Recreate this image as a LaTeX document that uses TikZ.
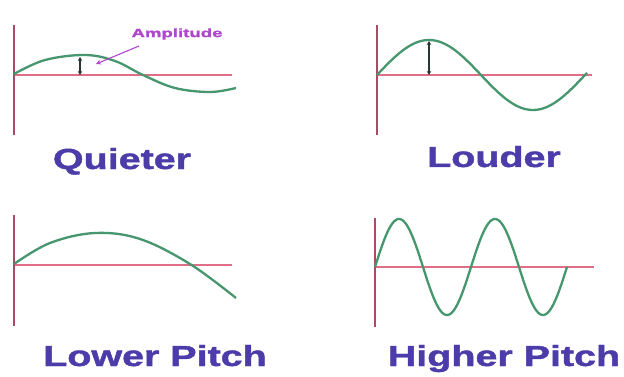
\documentclass[tikz,border=0pt]{standalone}
\usepackage{fontspec}
\setmainfont{Liberation Sans}
\newfontfamily\heavyfont[FakeBold=1.2]{Liberation Sans Bold}
\usetikzlibrary{arrows.meta}
\definecolor{wavegreen}{RGB}{70,150,110}
\definecolor{axisred}{RGB}{225,110,135}
\definecolor{axisdark}{RGB}{170,75,100}
\definecolor{labelblue}{RGB}{75,60,170}
\definecolor{amppurple}{RGB}{175,70,205}
\definecolor{arrdark}{RGB}{40,55,50}
\tikzset{
  wave/.style={wavegreen, line width=2.3pt, smooth},
  haxis/.style={axisred, line width=2.8pt},
  vaxis/.style={axisdark, line width=2.8pt},
  amparrow/.style={arrdark, line width=1.8pt, {Stealth[length=4pt,width=4.5pt]}-{Stealth[length=4pt,width=4.5pt]}},
  biglabel/.style={labelblue, font=\fontsize{29}{30}\heavyfont, xscale=1.36, inner sep=0pt, anchor=base},
  amplabel/.style={amppurple, font=\fontsize{12}{13}\heavyfont, xscale=1.55, inner sep=0pt}
}
\begin{document}
\begin{tikzpicture}[x=1pt,y=-1pt]
\useasboundingbox[fill=white] (0,0) rectangle (624,377);

% ---- Quieter ----
\coordinate (q-vt) at (14,25); \coordinate (q-vb) at (14,135);
\coordinate (q-hl) at (14,75); \coordinate (q-hr) at (232,75);
\draw[haxis] (q-hl) -- (q-hr);
\draw[vaxis] (q-vt) -- (q-vb);
\draw[wave] plot[smooth, tension=0.6] coordinates {(14,74) (45,60) (85,55) (115,61) (143,75) (175,88) (210,92) (236,88)};
\coordinate (q-at) at (80,57); \coordinate (q-ab) at (80,75);
\draw[amparrow] (q-at) -- (q-ab);
\node[amplabel] (amp) at (177,34) {Amplitude};
\coordinate (amp-tip) at (96,64);
\draw[amppurple, line width=1.1pt, -{Stealth[length=5pt,width=5pt]}] (139,46) -- (amp-tip);
\node[biglabel] (quieter) at (122,169) {Quieter};

% ---- Louder ----
\coordinate (l-vt) at (377,25); \coordinate (l-vb) at (377,135);
\coordinate (l-hl) at (377,75); \coordinate (l-hr) at (592,75);
\draw[haxis] (l-hl) -- (l-hr);
\draw[vaxis] (l-vt) -- (l-vb);
\draw[wave] plot[domain=377:587, samples=100] (\x,{75-35*sin((\x-377)/104*180)});
\coordinate (l-at) at (429,41); \coordinate (l-ab) at (429,75);
\draw[amparrow] (l-at) -- (l-ab);
\node[biglabel] (louder) at (494,167) {Louder};

% ---- Lower Pitch ----
\coordinate (lp-vt) at (14,215); \coordinate (lp-vb) at (14,326);
\coordinate (lp-hl) at (14,265); \coordinate (lp-hr) at (232,265);
\draw[haxis] (lp-hl) -- (lp-hr);
\draw[vaxis] (lp-vt) -- (lp-vb);
\draw[wave] plot[smooth, tension=0.6] coordinates {(14,264) (50,243) (95,233) (140,239) (190,264) (236,298)};
\node[biglabel] (lower) at (155,366) {Lower Pitch};

% ---- Higher Pitch ----
\coordinate (hp-vt) at (375,218); \coordinate (hp-vb) at (375,327);
\coordinate (hp-hl) at (375,267); \coordinate (hp-hr) at (594,267);
\draw[haxis] (hp-hl) -- (hp-hr);
\draw[vaxis] (hp-vt) -- (hp-vb);
\draw[wave] plot[domain=375:567, samples=160] (\x,{267-48*sin((\x-375)/48*180)});
\node[biglabel] (higher) at (504,366) {Higher Pitch};
\end{tikzpicture}
\end{document}
